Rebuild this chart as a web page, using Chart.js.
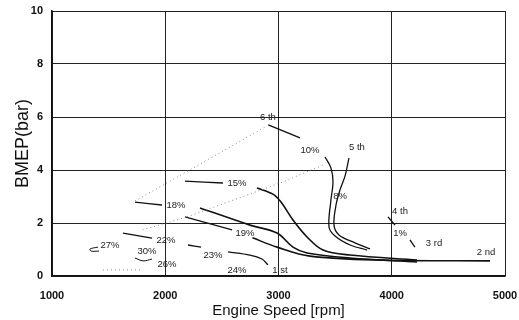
<!DOCTYPE html>
<html>
<head>
<meta charset="utf-8">
<script src="https://cdn.jsdelivr.net/npm/chart.js@4"></script>
<style>
    html, body { margin: 0; padding: 0; background: #fff; }
    #wrap { width: 519px; height: 320px; }
</style>
</head>
<body>
<div id="wrap"><canvas id="bmep-chart"></canvas></div>
<script>
// axis ticks
const rpmTicks = [1000, 2000, 3000, 4000, 5000];
const bmepTicks = [0, 2, 4, 6, 8, 10];

// solid curves [rpm], [bar]
const gear6Rpm = [2910, 3190];
const gear6Bmep = [5.70, 5.21];
const pct10Rpm = [3411, 3463, 3481, 3463, 3446, 3499, 3632, 3782];
const pct10Bmep = [4.49, 4.08, 3.55, 2.87, 1.85, 1.51, 1.17, 0.98];
const gear5Rpm = [3622, 3587, 3543, 3508, 3490, 3534, 3675, 3808];
const gear5Bmep = [4.45, 3.77, 3.25, 2.68, 1.92, 1.55, 1.25, 1.02];
const pct15CurveRpm = [2810, 2951, 3022, 3128, 3252, 3393, 3632, 4223];
const pct15CurveBmep = [3.32, 3.09, 2.79, 2.11, 1.47, 0.98, 0.79, 0.60];
const pct19UpperRpm = [2307, 2748, 2987, 3128, 3252, 3632, 4223];
const pct19UpperBmep = [2.57, 1.92, 1.62, 1.09, 0.87, 0.68, 0.53];
const pct19LeftRpm = [2174, 2590];
const pct19LeftBmep = [2.23, 1.74];
const gear2Rpm = [2770, 2987, 3278, 3923, 4868];
const gear2Bmep = [1.44, 1.09, 0.75, 0.60, 0.57];
const pct15Rpm = [2174, 2510];
const pct15Bmep = [3.58, 3.51];
const pct18Rpm = [1733, 1971];
const pct18Bmep = [2.79, 2.68];
const pct22Rpm = [1627, 1883];
const pct22Bmep = [1.62, 1.43];
const pct23Rpm = [2201, 2316];
const pct23Bmep = [1.17, 1.09];
const gear1Rpm = [2554, 2748, 2854, 2907];
const gear1Bmep = [0.91, 0.79, 0.64, 0.42];
const gear4Rpm = [3967, 4029];
const gear4Bmep = [2.23, 1.92];
const gear3Rpm = [4161, 4205];
const gear3Bmep = [1.36, 1.09];
const pct27Rpm = [1406, 1336, 1345, 1415];
const pct27Bmep = [1.09, 1.02, 0.94, 0.94];
const pct30Rpm = [1733, 1804, 1883];
const pct30Bmep = [0.68, 0.57, 0.64];

// dotted guide lines
const dotARpm = [1733, 2881];
const dotABmep = [2.83, 5.62];
const dotBRpm = [2193, 3040, 3400];
const dotBBmep = [2.23, 3.55, 4.20];
const dotCRpm = [1800, 2193];
const dotCBmep = [1.74, 2.23];
const dotDRpm = [1450, 1777];
const dotDBmep = [0.23, 0.23];

// text marks
const markText = ["6 th", "10%", "5 th", "8%", "15%", "18%", "19%", "22%", "27%", "30%",
    "26%", "23%", "24%", "1 st", "4 th", "1%", "3 rd", "2 nd"];
const markRpm = [2907, 3278, 3693, 3543, 2634, 2095, 2704, 2007, 1512, 1839,
    2015, 2422, 2634, 3013, 4073, 4073, 4373, 4832];
const markBmep = [6.00, 4.75, 4.87, 3.02, 3.51, 2.68, 1.62, 1.36, 1.17, 0.94,
    0.42, 0.79, 0.23, 0.23, 2.42, 1.62, 1.25, 0.91];

const pts = (xs, ys) => xs.map((x, i) => ({ x: x, y: ys[i] }));

const solid = (xs, ys, w) => ({
    data: pts(xs, ys),
    showLine: true,
    borderColor: "#111",
    borderWidth: w || 1.3,
    pointRadius: 0,
    tension: 0.35,
    fill: false,
});

const dotted = (xs, ys) => ({
    data: pts(xs, ys),
    showLine: true,
    borderColor: "#8a8a8a",
    borderWidth: 1,
    borderDash: [1, 3],
    pointRadius: 0,
    tension: 0,
    fill: false,
});

const markLabels = {
    id: "markLabels",
    afterDatasetsDraw(chart) {
        const { ctx, scales } = chart;
        ctx.save();
        ctx.font = "9.5px 'Liberation Sans', Arial, sans-serif";
        ctx.fillStyle = "#222";
        ctx.textAlign = "center";
        ctx.textBaseline = "middle";
        markText.forEach((t, i) => {
            ctx.fillText(t, scales.x.getPixelForValue(markRpm[i]), scales.y.getPixelForValue(markBmep[i]));
        });
        ctx.restore();
    },
};

new Chart(document.getElementById("bmep-chart"), {
    type: "scatter",
    data: {
        datasets: [
            dotted(dotARpm, dotABmep),
            dotted(dotBRpm, dotBBmep),
            dotted(dotCRpm, dotCBmep),
            dotted(dotDRpm, dotDBmep),
            solid(gear6Rpm, gear6Bmep),
            solid(pct10Rpm, pct10Bmep),
            solid(gear5Rpm, gear5Bmep),
            solid(pct15CurveRpm, pct15CurveBmep, 1.6),
            solid(pct19UpperRpm, pct19UpperBmep, 1.6),
            solid(pct19LeftRpm, pct19LeftBmep),
            solid(gear2Rpm, gear2Bmep, 1.6),
            solid(pct15Rpm, pct15Bmep),
            solid(pct18Rpm, pct18Bmep),
            solid(pct22Rpm, pct22Bmep),
            solid(pct23Rpm, pct23Bmep),
            solid(gear1Rpm, gear1Bmep),
            solid(gear4Rpm, gear4Bmep),
            solid(gear3Rpm, gear3Bmep),
            solid(pct27Rpm, pct27Bmep, 1),
            solid(pct30Rpm, pct30Bmep, 1),
        ],
    },
    options: {
        responsive: true,
        maintainAspectRatio: false,
        animation: false,
        layout: {
            padding: { top: 11, right: 14, left: 0, bottom: 0 },
        },
        scales: {
            x: {
                type: "linear",
                min: 1000,
                max: 5000,
                afterBuildTicks: (s) => { s.ticks = rpmTicks.map((v) => ({ value: v })); },
                afterFit: (s) => { s.height = 44; s.paddingLeft = 0; s.paddingRight = 0; },
                border: { display: true, color: "#111", width: 1.5 },
                grid: { color: "#222", lineWidth: 1, drawTicks: false },
                ticks: {
                    color: "#111",
                    padding: 13,
                    maxRotation: 0,
                    callback: (v) => String(v),
                    font: { family: "'Liberation Sans', Arial", size: 11, weight: "bold" },
                },
                title: {
                    display: true,
                    text: "Engine Speed [rpm]",
                    color: "#111",
                    padding: { top: 0, bottom: 0 },
                    font: { family: "'Liberation Sans', Arial", size: 15 },
                },
            },
            y: {
                type: "linear",
                min: 0,
                max: 10,
                afterBuildTicks: (s) => { s.ticks = bmepTicks.map((v) => ({ value: v })); },
                afterFit: (s) => { s.width = 52; s.paddingTop = 0; s.paddingBottom = 0; },
                border: { display: true, color: "#111", width: 1.5 },
                grid: { color: "#222", lineWidth: 1, drawTicks: false },
                ticks: {
                    color: "#111",
                    padding: 9,
                    callback: (v) => String(v),
                    font: { family: "'Liberation Sans', Arial", size: 11, weight: "bold" },
                },
                title: {
                    display: true,
                    text: "BMEP(bar)",
                    color: "#111",
                    padding: { top: 12, bottom: 0 },
                    font: { family: "'Liberation Sans', Arial", size: 18 },
                },
            },
        },
        plugins: {
            legend: { display: false },
            tooltip: { enabled: false },
        },
    },
    plugins: [markLabels],
});
</script>
</body>
</html>
